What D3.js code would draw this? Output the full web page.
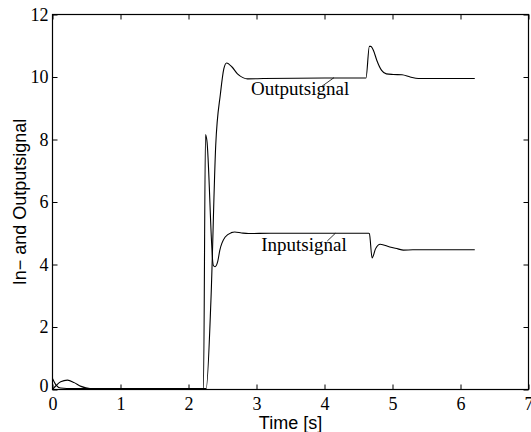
<!DOCTYPE html>
<html>
<head>
<meta charset="utf-8">
<script src="https://cdn.jsdelivr.net/npm/d3@7"></script>
<style>
  body { margin: 0; background: #fff; }
  .tick text { font-family: "Liberation Serif", "Times New Roman", serif; font-size: 18px; fill: #000; }
  .tick line { stroke: #000; }
  .signal { fill: none; stroke: #000; stroke-width: 1.1; }
  .axis-label { font-family: "Liberation Sans", Arial, sans-serif; font-size: 18px; fill: #000; }
  .curve-label { font-family: "Liberation Serif", "Times New Roman", serif; font-size: 19px; fill: #000; }
</style>
</head>
<body>
<svg id="chart"></svg>
<script>
// values
var inputTime   = [0, 0.05, 0.12, 0.3, 1.0, 2.22, 2.25, 2.27, 2.365, 2.39, 2.43, 2.46, 2.54, 2.63, 2.68, 2.78, 2.88, 3.2, 4.65, 4.66, 4.70, 4.75, 4.82, 4.96, 5.08, 5.16, 5.3, 6.21];
var inputValues = [0.35, 0.15, 0.05, 0.03, 0.03, 0.03, 8.16, 7.97, 3.97, 3.93, 4.1, 4.45, 4.88, 5.02, 5.04, 5.01, 4.99, 5.0, 5.0, 4.99, 4.21, 4.5, 4.65, 4.56, 4.5, 4.46, 4.47, 4.47];

var outputTime   = [0, 0.05, 0.12, 0.22, 0.32, 0.42, 0.55, 1.0, 2.26, 2.33, 2.40, 2.47, 2.52, 2.56, 2.64, 2.72, 2.8, 2.87, 3.1, 4.0, 4.61, 4.66, 4.68, 4.72, 4.77, 4.84, 4.91, 5.01, 5.14, 5.26, 5.38, 6.21];
var outputValues = [0, 0.12, 0.25, 0.3, 0.22, 0.1, 0.03, 0.03, 0.03, 2.86, 7.8, 9.47, 10.27, 10.45, 10.32, 10.1, 9.98, 9.94, 9.95, 9.97, 9.97, 10.98, 10.98, 10.85, 10.53, 10.21, 10.1, 10.08, 10.07, 10.0, 9.95, 9.95];

var xTicks = [0, 1, 2, 3, 4, 5, 6, 7];
var yTicks = [0, 2, 4, 6, 8, 10, 12];

var curveLabels = [
  { text: "Outputsignal", t: 2.92, v: 9.41, from: [3.96, 9.70], to: [4.14, 9.98] },
  { text: "Inputsignal",  t: 3.07, v: 4.43, from: [4.04, 4.75], to: [4.16, 5.0] }
];

var width = 531;
var height = 432;
var margin = { left: 52.5, right: 2.5, top: 14.5, bottom: 42.5 };

var svg = d3.select("#chart")
  .attr("width", width)
  .attr("height", height)
  .attr("viewBox", [0, 0, width, height]);

var xScale = d3.scaleLinear()
  .domain([0, 7])
  .range([margin.left, width - margin.right]);

var yScale = d3.scaleLinear()
  .domain([0, 12])
  .range([height - margin.bottom, margin.top]);

// inward ticks on all four sides, labels only bottom and left
svg.append("g")
  .attr("transform", `translate(0, ${height - margin.bottom})`)
  .call(d3.axisBottom(xScale).tickValues(xTicks).tickFormat(d3.format("d")).tickSize(-5).tickPadding(8))
  .call(g => g.select(".domain").remove());

svg.append("g")
  .attr("transform", `translate(${margin.left}, 0)`)
  .call(d3.axisLeft(yScale).tickValues(yTicks).tickFormat(d3.format("d")).tickSize(-5).tickPadding(4))
  .call(g => g.select(".domain").remove())
  .call(g => g.selectAll(".tick text").filter(d => d === 0).attr("dy", "0.1em"));

svg.append("g")
  .attr("transform", `translate(0, ${margin.top})`)
  .call(d3.axisTop(xScale).tickValues(xTicks).tickFormat("").tickSize(-5))
  .call(g => g.select(".domain").remove());

svg.append("g")
  .attr("transform", `translate(${width - margin.right}, 0)`)
  .call(d3.axisRight(yScale).tickValues(yTicks).tickFormat("").tickSize(-5))
  .call(g => g.select(".domain").remove());

svg.append("rect")
  .attr("x", margin.left)
  .attr("y", margin.top)
  .attr("width", width - margin.left - margin.right)
  .attr("height", height - margin.top - margin.bottom)
  .attr("fill", "none")
  .attr("stroke", "#000")
  .attr("stroke-width", 1.2);

var line = d3.line()
  .curve(d3.curveMonotoneX)
  .x(d => xScale(d[0]))
  .y(d => yScale(d[1]));

svg.append("path")
  .datum(d3.zip(inputTime, inputValues))
  .attr("class", "signal")
  .attr("d", line);

svg.append("path")
  .datum(d3.zip(outputTime, outputValues))
  .attr("class", "signal")
  .attr("d", line);

svg.selectAll(".leader")
  .data(curveLabels)
  .join("line")
  .attr("class", "leader")
  .attr("x1", d => xScale(d.from[0]))
  .attr("y1", d => yScale(d.from[1]))
  .attr("x2", d => xScale(d.to[0]))
  .attr("y2", d => yScale(d.to[1]))
  .attr("stroke", "#000")
  .attr("stroke-width", 0.8);

svg.selectAll(".curve-label")
  .data(curveLabels)
  .join("text")
  .attr("class", "curve-label")
  .attr("x", d => xScale(d.t))
  .attr("y", d => yScale(d.v))
  .text(d => d.text);

svg.append("text")
  .attr("class", "axis-label")
  .attr("x", (margin.left + width - margin.right) / 2)
  .attr("y", 429)
  .attr("text-anchor", "middle")
  .text("Time [s]");

svg.append("text")
  .attr("class", "axis-label")
  .attr("transform", `translate(25.5, ${(margin.top + height - margin.bottom) / 2}) rotate(-90)`)
  .attr("text-anchor", "middle")
  .text("In\u2212 and Outputsignal");
</script>
</body>
</html>
